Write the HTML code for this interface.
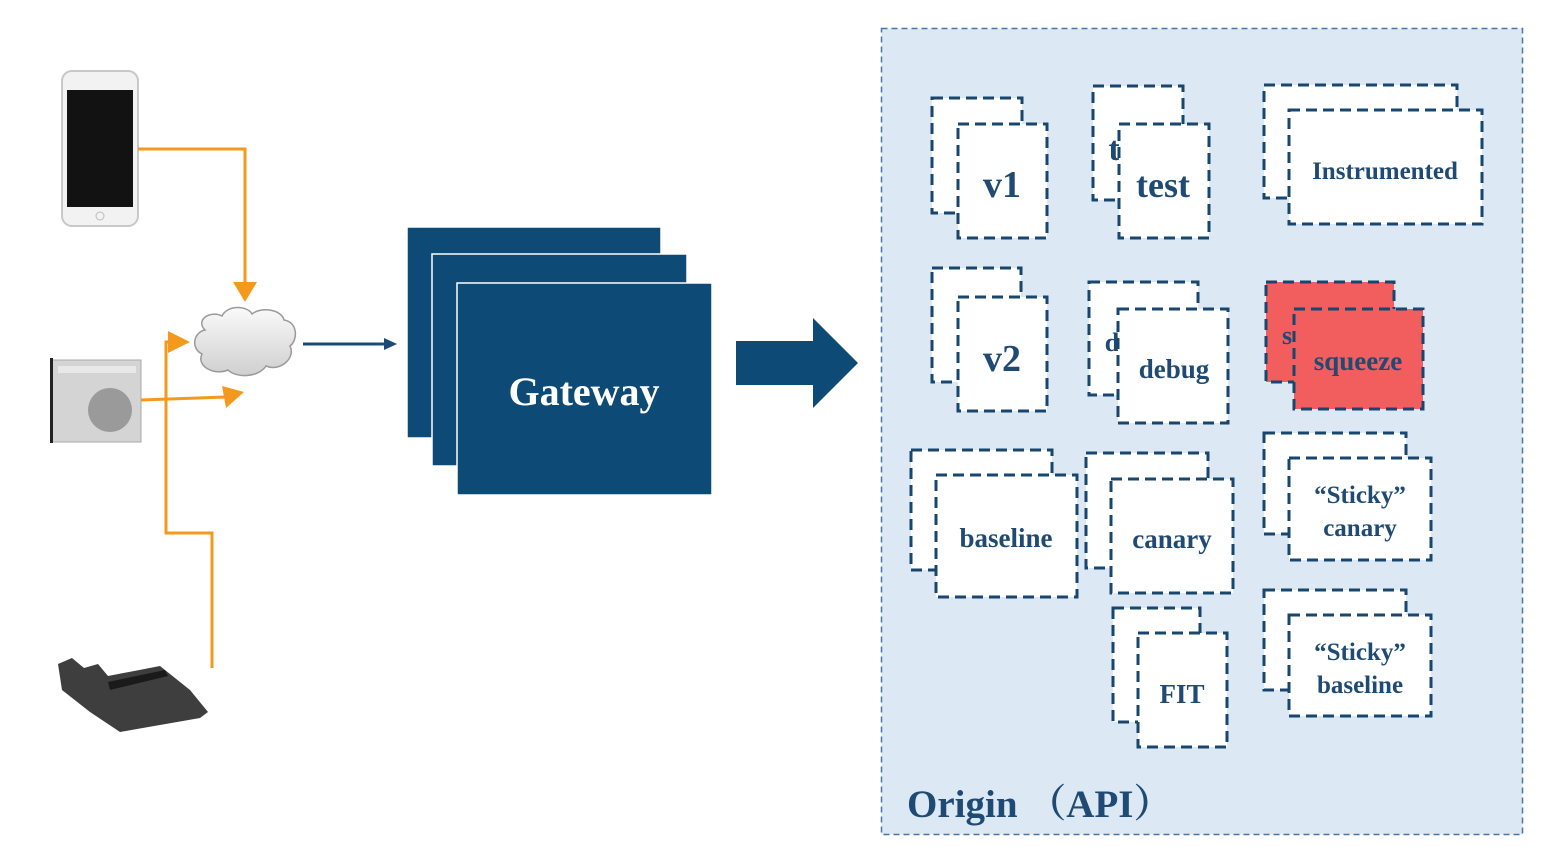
<!DOCTYPE html>
<html><head><meta charset="utf-8"><style>
html,body{margin:0;padding:0;background:#fff;width:1560px;height:852px;overflow:hidden}
svg{display:block}
.t{font-weight:bold;fill:#1f4a73;text-anchor:middle}
.c{fill:#fff;stroke:#17466f;stroke-width:3;stroke-dasharray:11 6}
.r{fill:#f25e5e;stroke:#17466f;stroke-width:3;stroke-dasharray:11 6}
</style></head><body>
<svg width="1560" height="852" viewBox="0 0 1560 852" xmlns="http://www.w3.org/2000/svg" font-family="'Liberation Serif','Times New Roman','DejaVu Serif',serif">
<defs>
<linearGradient id="cg" x1="0" y1="0" x2="0" y2="1"><stop offset="0" stop-color="#fafafa"/><stop offset="1" stop-color="#cfcfcf"/></linearGradient>
</defs>
<rect x="62" y="71" width="76" height="155" rx="10" fill="#f2f2f2" stroke="#c8c8c8" stroke-width="2"/>
<rect x="67" y="90" width="66" height="117" fill="#121212"/>
<circle cx="100" cy="216" r="4" fill="none" stroke="#bbb"/>
<rect x="51" y="360" width="90" height="82" fill="#d4d4d4" stroke="#aaa"/>
<rect x="50" y="358" width="3" height="85" fill="#222"/>
<rect x="58" y="366" width="78" height="7" fill="#e8e8e8"/>
<circle cx="110" cy="410" r="22" fill="#9a9a9a"/>
<path d="M58 664 L72 658 L84 668 L98 664 L108 676 L160 666 L190 690 L208 712 L200 718 L120 732 L90 712 L62 690 Z" fill="#3e3e3e"/>
<path d="M108 682 L165 670 L168 676 L110 690 Z" fill="#1a1a1a"/>
<g fill="none" stroke="#f39a1e" stroke-width="3">
<polyline points="138,149 245,149 245,284"/>
<line x1="141" y1="400" x2="226" y2="397"/>
<polyline points="212,668 212,533 166,533 166,342 174,342"/>
</g>
<g fill="#f39a1e">
<polygon points="233,282 257,282 245,302"/>
<polygon points="222,386 244,392 226,408"/>
<polygon points="168,331 190,342 168,353"/>
</g>
<path d="M205 330 C195 320 210 310 222 316 C228 304 248 306 252 314 C262 306 282 310 284 320 C298 322 298 340 290 346 C296 358 280 372 266 366 C258 378 236 378 228 370 C214 376 196 366 202 354 C190 348 194 332 205 330 Z" fill="url(#cg)" stroke="#9a9a9a" stroke-width="1.5"/>
<line x1="303" y1="344" x2="386" y2="344" stroke="#1a4b77" stroke-width="3"/>
<polygon points="384,338 397,344 384,350" fill="#1a4b77"/>
<rect x="407" y="227" width="254" height="211" fill="#0d4a75" stroke="#fff" stroke-width="1.5"/>
<rect x="432" y="254" width="255" height="212" fill="#0d4a75" stroke="#fff" stroke-width="1.5"/>
<rect x="457" y="283" width="255" height="212" fill="#0d4a75" stroke="#fff" stroke-width="1.5"/>
<text x="584" y="405" class="t" style="fill:#fff;font-size:40px">Gateway</text>
<polygon points="736,341 813,341 813,318 858,363 813,408 813,385 736,385" fill="#0d4a75"/>
<rect x="881.5" y="28.5" width="641" height="806" fill="#dde8f5" stroke="#4b76a3" stroke-width="1.5" stroke-dasharray="6 4"/>
<rect class="c" x="932" y="98" width="90" height="115"/><rect class="c" x="958" y="124" width="89" height="114"/>
<text class="t" x="1002" y="197" style="font-size:38px">v1</text>
<rect class="c" x="1093" y="86" width="90" height="114"/>
<text class="t" x="1114" y="160" style="font-size:34px">t</text>
<rect class="c" x="1119" y="124" width="90" height="114"/>
<text class="t" x="1163" y="197" style="font-size:36px">test</text>
<rect class="c" x="1264" y="85" width="193" height="113"/>
<rect class="c" x="1289" y="110" width="193" height="114"/>
<text class="t" x="1385" y="179" style="font-size:25px">Instrumented</text>
<rect class="c" x="932" y="268" width="89" height="114"/><rect class="c" x="958" y="297" width="89" height="114"/>
<text class="t" x="1002" y="371" style="font-size:38px">v2</text>
<rect class="c" x="1089" y="282" width="109" height="113"/>
<text class="t" x="1112" y="351" style="font-size:26px">d</text>
<rect class="c" x="1118" y="309" width="110" height="114"/>
<text class="t" x="1174" y="378" style="font-size:27px">debug</text>
<rect class="r" x="1266" y="282" width="128" height="100"/>
<text class="t" x="1287" y="344" style="font-size:26px">s</text>
<rect class="r" x="1294" y="309" width="129" height="100"/>
<text class="t" x="1358" y="370" style="font-size:27px">squeeze</text>
<rect class="c" x="911" y="450" width="141" height="120"/>
<rect class="c" x="936" y="475" width="141" height="122"/>
<text class="t" x="1006" y="547" style="font-size:27px">baseline</text>
<rect class="c" x="1086" y="453" width="122" height="115"/>
<rect class="c" x="1111" y="479" width="122" height="114"/>
<text class="t" x="1172" y="548" style="font-size:27px">canary</text>
<rect class="c" x="1264" y="433" width="142" height="101"/>
<rect class="c" x="1289" y="458" width="142" height="102"/>
<text class="t" x="1360" y="503" style="font-size:25px">“Sticky”</text>
<text class="t" x="1360" y="536" style="font-size:25px">canary</text>
<rect class="c" x="1113" y="608" width="87" height="114"/>
<rect class="c" x="1138" y="633" width="89" height="114"/>
<text class="t" x="1182" y="703" style="font-size:27px">FIT</text>
<rect class="c" x="1264" y="590" width="142" height="100"/>
<rect class="c" x="1289" y="615" width="142" height="101"/>
<text class="t" x="1360" y="660" style="font-size:25px">“Sticky”</text>
<text class="t" x="1360" y="693" style="font-size:25px">baseline</text>
<text class="t" x="907" y="817" style="font-size:39px;text-anchor:start">Origin <tspan font-family="'Noto Serif CJK SC',serif">（</tspan>API<tspan font-family="'Noto Serif CJK SC',serif">）</tspan></text>
</svg>
</body></html>
